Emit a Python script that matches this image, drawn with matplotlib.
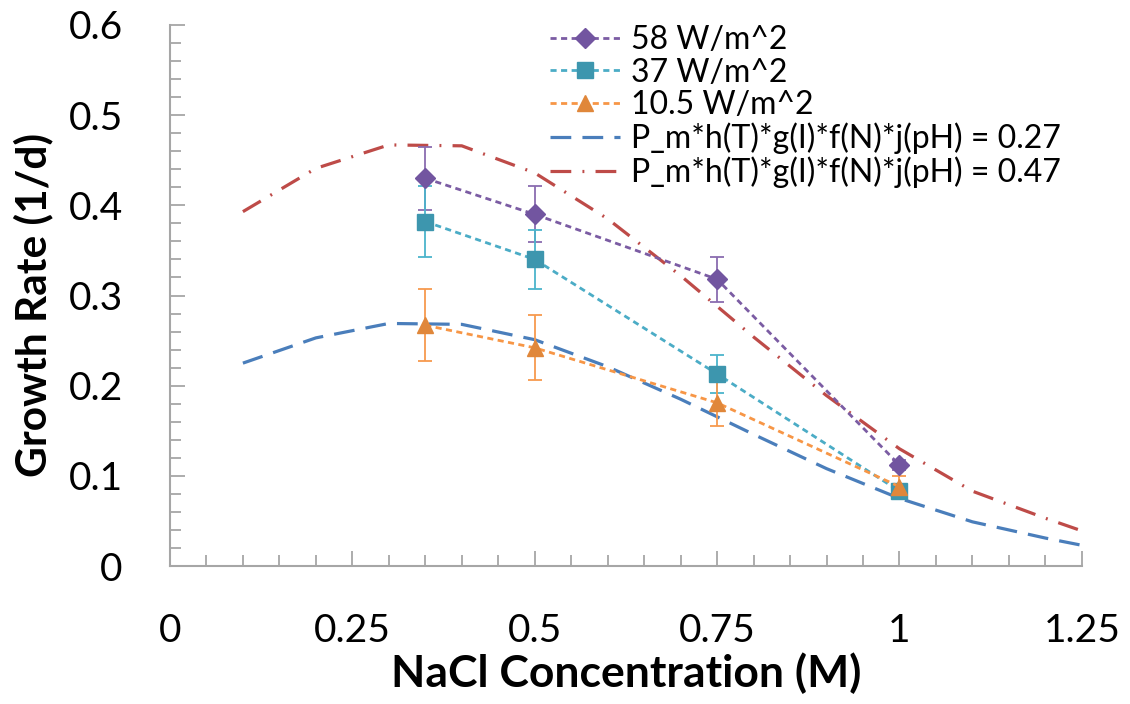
import numpy as np
import matplotlib
matplotlib.use("Agg")
import matplotlib.pyplot as plt
from matplotlib.ticker import MultipleLocator

plt.rcParams['font.family'] = ['Lato', 'DejaVu Sans']

# measured growth rates at three light intensities
nacl = [0.35, 0.5, 0.75, 1.0]
rate_58 = [0.430, 0.390, 0.318, 0.112]
err_58 = [0.035, 0.031, 0.025, 0.006]
rate_37 = [0.382, 0.340, 0.213, 0.083]
err_37 = [0.039, 0.033, 0.021, 0.005]
rate_10 = [0.267, 0.242, 0.181, 0.088]
err_10 = [0.040, 0.036, 0.026, 0.012]

# model curves
nacl_model = [0.1, 0.2, 0.3, 0.4, 0.5, 0.6, 0.7, 0.8, 0.9, 1.0, 1.1, 1.2, 1.25]
model_027 = [0.225, 0.253, 0.269, 0.268, 0.251, 0.221, 0.185, 0.146, 0.108, 0.075, 0.049, 0.031, 0.023]
model_047 = [0.393, 0.441, 0.467, 0.466, 0.436, 0.385, 0.322, 0.254, 0.189, 0.130, 0.083, 0.053, 0.039]

xticks = [0, 0.25, 0.5, 0.75, 1.0, 1.25]
xtick_labels = ['0', '0.25', '0.5', '0.75', '1', '1.25']
yticks = [0, 0.1, 0.2, 0.3, 0.4, 0.5, 0.6]
ytick_labels = ['0', '0.1', '0.2', '0.3', '0.4', '0.5', '0.6']

fig = plt.figure(figsize=(11.3, 7.04), dpi=100)
ax = fig.add_axes([0.1504, 0.196, 0.807, 0.7685])

short = (0, (2.2, 1.6))
l58, = ax.plot(nacl, rate_58, color='#7B5CA3', ls=short, lw=2, marker='D', ms=10,
               mfc='#7255A0', mec='#7255A0', zorder=3)
l37, = ax.plot(nacl, rate_37, color='#4BACC6', ls=short, lw=2, marker='s', ms=11,
               mfc='#3D96AE', mec='#3D96AE', zorder=3)
l10, = ax.plot(nacl, rate_10, color='#F79646', ls=short, lw=2, marker='^', ms=12,
               mfc='#E0873A', mec='#E0873A', zorder=3)
ax.errorbar(nacl, rate_58, yerr=err_58, fmt='none', ecolor='#8A6CB0',
            capsize=5, elinewidth=1.3, capthick=1.3, zorder=2.5)
ax.errorbar(nacl, rate_37, yerr=err_37, fmt='none', ecolor='#4BB4CC',
            capsize=5, elinewidth=1.3, capthick=1.3, zorder=2.5)
ax.errorbar(nacl, rate_10, yerr=err_10, fmt='none', ecolor='#F79A4E',
            capsize=5, elinewidth=1.3, capthick=1.3, zorder=2.5)
m27, = ax.plot(nacl_model, model_027, color='#4A7EBB', lw=2.3, ls=(0, (6.5, 3.5)), zorder=2)
m47, = ax.plot(nacl_model, model_047, color='#BE4B48', lw=2.3,
               ls=(0, (6.5, 3.5, 0.6, 3.5)), zorder=2)

ax.set_xlim(0, 1.25)
ax.set_ylim(0, 0.6)
ax.set_xticks(xticks, xtick_labels)
ax.set_yticks(yticks, ytick_labels)
ax.xaxis.set_minor_locator(MultipleLocator(0.05))
ax.yaxis.set_minor_locator(MultipleLocator(0.02))

for s in ['top', 'right']:
    ax.spines[s].set_visible(False)
for s in ['left', 'bottom']:
    ax.spines[s].set_color('#A6A6A6')
    ax.spines[s].set_linewidth(1.5)
ax.tick_params(which='both', direction='in', color='#A6A6A6', width=1.3)
ax.tick_params(which='major', length=11, labelsize=28)
ax.tick_params(which='minor', length=8)
ax.tick_params(axis='y', which='major', pad=34)
ax.tick_params(axis='x', which='major', pad=34)

ax.set_xlabel('NaCl Concentration (M)', fontsize=32, fontweight='bold', labelpad=2)
ax.set_ylabel('Growth Rate (1/d)', fontsize=30.5, fontweight='bold')
ax.yaxis.set_label_coords(-0.128, 0.482)

ax.legend([l58, l37, l10, m27, m47],
          ['58 W/m^2', '37 W/m^2', '10.5 W/m^2',
           'P_m*h(T)*g(I)*f(N)*j(pH) = 0.27', 'P_m*h(T)*g(I)*f(N)*j(pH) = 0.47'],
          loc='upper left', bbox_to_anchor=(0.4167, 1.0), frameon=False,
          fontsize=23, numpoints=1, handlelength=2.2, handletextpad=0.33,
          labelspacing=0.08, borderpad=0, borderaxespad=0)

fig.savefig('out.png', dpi=100)
